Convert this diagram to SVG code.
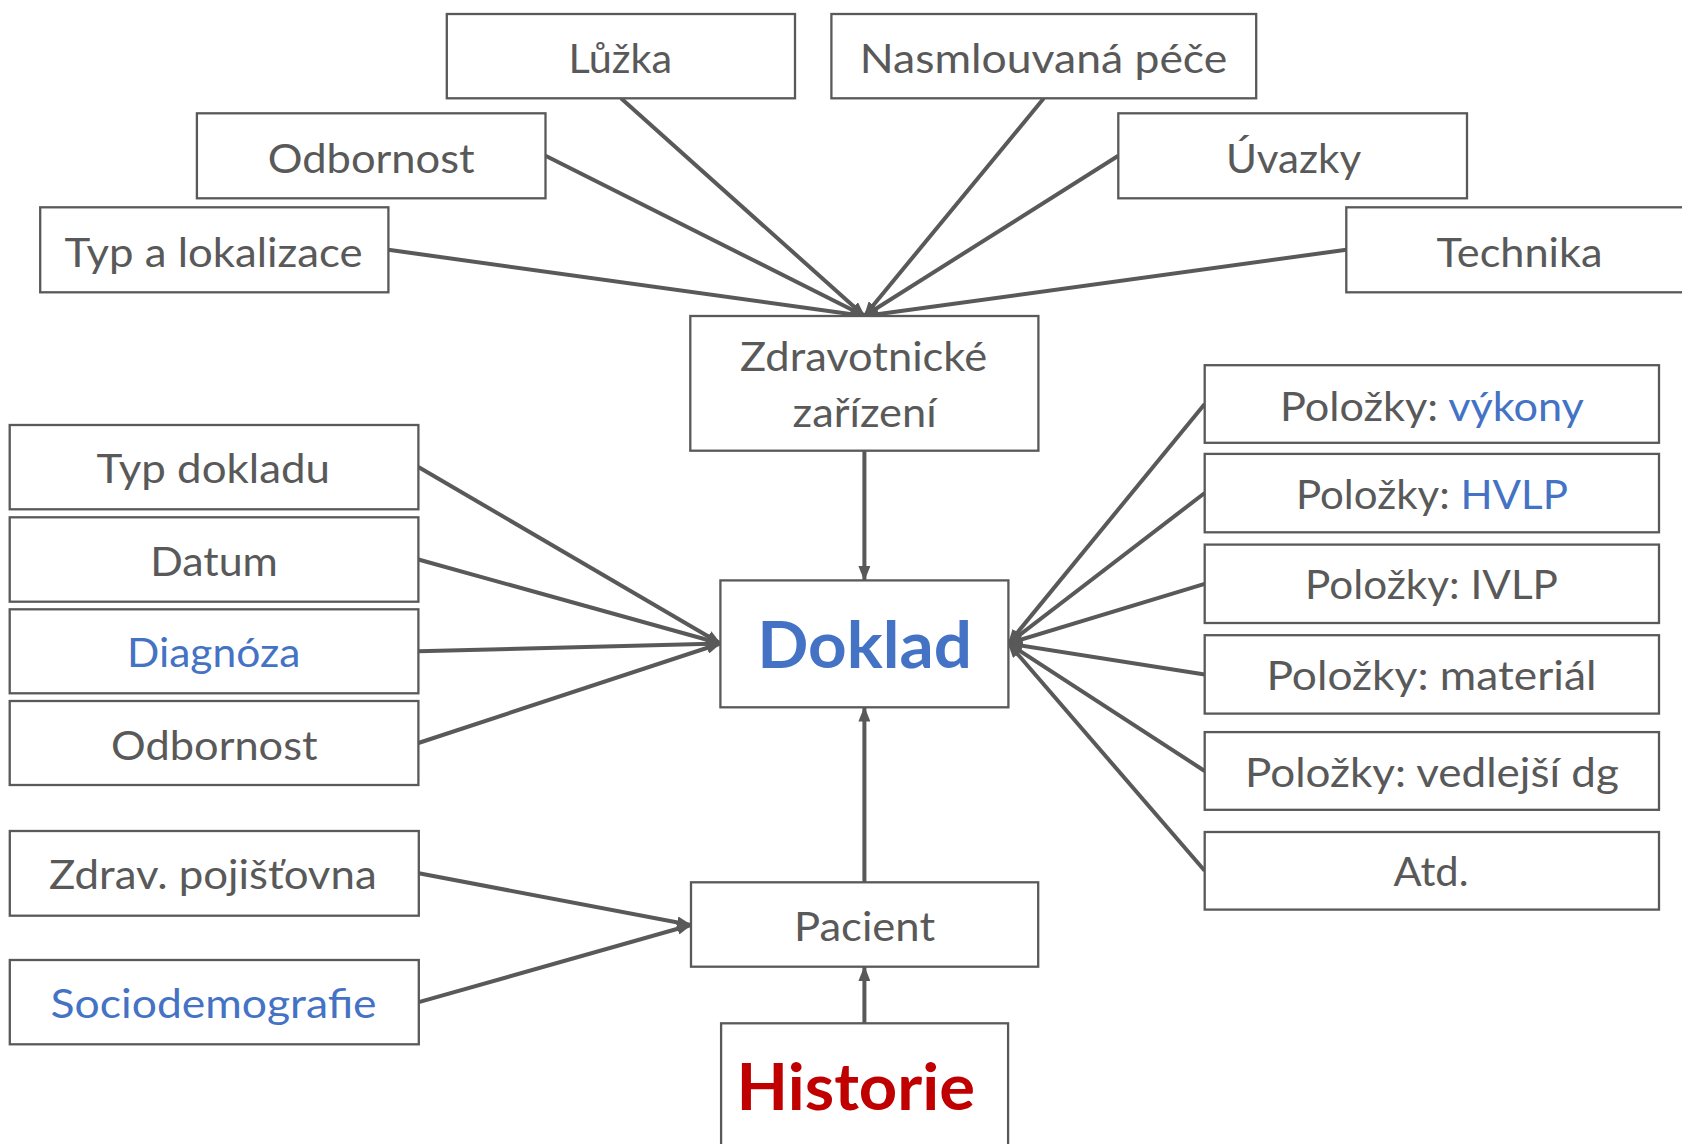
<svg xmlns="http://www.w3.org/2000/svg" width="1682" height="1144" viewBox="0 0 1682 1144">
<style>
.box{fill:#fff;stroke:#595959;stroke-width:2.3}
.t{font-family:Lato,"Liberation Sans",sans-serif;font-size:41px;fill:#595959;text-anchor:middle}
.blue{fill:#4472C4}
.big{font-size:65px;font-weight:700}
.red{fill:#C00000}
.conn line{stroke:#595959;stroke-width:4;fill:none;marker-end:url(#ah)}
</style>
<defs>
<marker id="ah" viewBox="0 0 15 12" refX="14" refY="6" markerWidth="15" markerHeight="12" markerUnits="userSpaceOnUse" orient="auto">
<path d="M0,0 L15,6 L0,12 Z" fill="#595959"/>
</marker>
</defs>
<rect width="1682" height="1144" fill="#fff"/>
<g class="conn">
<line x1="388.4" y1="249.8" x2="864.4" y2="316"/>
<line x1="545.5" y1="155.8" x2="864.4" y2="316"/>
<line x1="621" y1="98.3" x2="864.4" y2="316"/>
<line x1="1043.8" y1="98.3" x2="864.4" y2="316"/>
<line x1="1118.3" y1="155.8" x2="864.4" y2="316"/>
<line x1="1346.3" y1="249.8" x2="864.4" y2="316"/>
<line x1="864.4" y1="450.7" x2="864.4" y2="580"/>
<line x1="418.4" y1="467" x2="720.4" y2="643.5"/>
<line x1="418.4" y1="559.5" x2="720.4" y2="643.5"/>
<line x1="418.4" y1="651.3" x2="720.4" y2="643.5"/>
<line x1="418.4" y1="743" x2="720.4" y2="643.5"/>
<line x1="1204.7" y1="404" x2="1008.4" y2="643.5"/>
<line x1="1204.7" y1="493" x2="1008.4" y2="643.5"/>
<line x1="1204.7" y1="583.8" x2="1008.4" y2="643.5"/>
<line x1="1204.7" y1="674.4" x2="1008.4" y2="643.5"/>
<line x1="1204.7" y1="771" x2="1008.4" y2="643.5"/>
<line x1="1204.7" y1="870.8" x2="1008.4" y2="643.5"/>
<line x1="418.8" y1="873.3" x2="691" y2="925"/>
<line x1="418.8" y1="1002.2" x2="691" y2="925"/>
<line x1="864.4" y1="882.3" x2="864.4" y2="707.5"/>
<line x1="864.4" y1="1023.3" x2="864.4" y2="967"/>
</g>
<g id="luzka"><rect class="box" x="446.8" y="14" width="348.2" height="84.3"/><text class="t" x="620.3" y="72.7" textLength="103.5" lengthAdjust="spacingAndGlyphs">Lůžka</text></g>
<g id="nasmlouvana"><rect class="box" x="831.4" y="14" width="424.8" height="84.3"/><text class="t" x="1043.5" y="72.7" textLength="367.4" lengthAdjust="spacingAndGlyphs">Nasmlouvaná péče</text></g>
<g id="odbornost-top"><rect class="box" x="196.9" y="113.3" width="348.6" height="85"/><text class="t" x="371.2" y="172.7" textLength="207" lengthAdjust="spacingAndGlyphs">Odbornost</text></g>
<g id="uvazky"><rect class="box" x="1118.3" y="113.3" width="348.7" height="85"/><text class="t" x="1293.6" y="172.7" textLength="135" lengthAdjust="spacingAndGlyphs">Úvazky</text></g>
<g id="typ-lokalizace"><rect class="box" x="40.2" y="207.3" width="348.2" height="85"/><text class="t" x="213.5" y="266.7" textLength="298" lengthAdjust="spacingAndGlyphs">Typ a lokalizace</text></g>
<g id="technika"><rect class="box" x="1346.3" y="207.3" width="348.2" height="85"/><text class="t" x="1519.5" y="266.7" textLength="166" lengthAdjust="spacingAndGlyphs">Technika</text></g>
<g id="zdravotnicke"><rect class="box" x="690.3" y="316" width="348.1" height="134.7"/><text class="t" x="863.6" y="371" textLength="247" lengthAdjust="spacingAndGlyphs">Zdravotnické</text><text class="t" x="864.6" y="427" textLength="144" lengthAdjust="spacingAndGlyphs">zařízení</text></g>
<g id="typ-dokladu"><rect class="box" x="9.7" y="425" width="408.7" height="84.3"/><text class="t" x="213.3" y="483.3" textLength="233.4" lengthAdjust="spacingAndGlyphs">Typ dokladu</text></g>
<g id="datum"><rect class="box" x="9.7" y="517.3" width="408.7" height="84.4"/><text class="t" x="214" y="575.7" textLength="127.7" lengthAdjust="spacingAndGlyphs">Datum</text></g>
<g id="diagnoza"><rect class="box" x="9.7" y="609.3" width="408.7" height="84"/><text class="t blue" x="213.7" y="667.3" textLength="173.3" lengthAdjust="spacingAndGlyphs">Diagnóza</text></g>
<g id="odbornost-left"><rect class="box" x="9.7" y="701" width="408.7" height="84"/><text class="t" x="214.3" y="760" textLength="206.5" lengthAdjust="spacingAndGlyphs">Odbornost</text></g>
<g id="doklad"><rect class="box" x="720.4" y="580.4" width="288" height="126.9"/><text class="t blue big" x="864.6" y="668.3" textLength="214.6" lengthAdjust="spacingAndGlyphs">Doklad</text></g>
<g id="polozky-vykony"><rect class="box" x="1204.7" y="365.2" width="454.3" height="77.6"/><text class="t" x="1431.9" y="420.6" textLength="304" lengthAdjust="spacingAndGlyphs">Položky: <tspan class="blue">výkony</tspan></text></g>
<g id="polozky-hvlp"><rect class="box" x="1204.7" y="453.9" width="454.3" height="78.4"/><text class="t" x="1431.9" y="509.4" textLength="272" lengthAdjust="spacingAndGlyphs">Položky: <tspan class="blue">HVLP</tspan></text></g>
<g id="polozky-ivlp"><rect class="box" x="1204.7" y="544.6" width="454.3" height="78.4"/><text class="t" x="1431.5" y="599" textLength="253" lengthAdjust="spacingAndGlyphs">Položky: IVLP</text></g>
<g id="polozky-material"><rect class="box" x="1204.7" y="635.2" width="454.3" height="78.4"/><text class="t" x="1431.4" y="689.6" textLength="330" lengthAdjust="spacingAndGlyphs">Položky: materiál</text></g>
<g id="polozky-vedlejsi"><rect class="box" x="1204.7" y="732.1" width="454.3" height="77.7"/><text class="t" x="1431.9" y="786.5" textLength="374" lengthAdjust="spacingAndGlyphs">Položky: vedlejší dg</text></g>
<g id="atd"><rect class="box" x="1204.7" y="832" width="454.3" height="77.6"/><text class="t" x="1431" y="885.6" textLength="75" lengthAdjust="spacingAndGlyphs">Atd.</text></g>
<g id="zdrav-pojistovna"><rect class="box" x="9.8" y="831" width="409" height="84.7"/><text class="t" x="212.9" y="889.3" textLength="327.6" lengthAdjust="spacingAndGlyphs">Zdrav. pojišťovna</text></g>
<g id="sociodemografie"><rect class="box" x="9.8" y="960" width="409" height="84.3"/><text class="t blue" x="213.6" y="1018.3" textLength="326" lengthAdjust="spacingAndGlyphs">Sociodemografie</text></g>
<g id="pacient"><rect class="box" x="691" y="882.3" width="347.2" height="84.4"/><text class="t" x="864.5" y="940.7" textLength="141" lengthAdjust="spacingAndGlyphs">Pacient</text></g>
<g id="historie"><rect class="box" x="721.1" y="1023.3" width="287" height="140"/><text class="t red big" x="855.8" y="1110" font-size="66" textLength="238.5" lengthAdjust="spacingAndGlyphs">Historie</text></g>
</svg>
